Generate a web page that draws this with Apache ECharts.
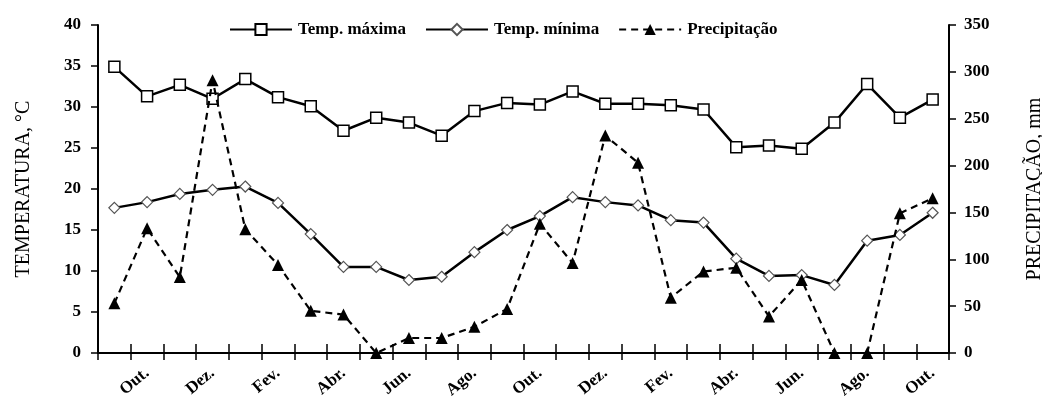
<!DOCTYPE html>
<html>
<head>
<meta charset="utf-8">
<script src="https://cdn.jsdelivr.net/npm/echarts@6/dist/echarts.min.js"></script>
<style>html,body{margin:0;padding:0;background:#fff}#c{width:1042px;height:396px}</style>
</head>
<body>
<div id="c"></div>
<script>
var categories = ['Set.','Out.','Nov.','Dez.','Jan.','Fev.','Mar.','Abr.','Mai.','Jun.','Jul.','Ago.','Set.','Out.','Nov.','Dez.','Jan.','Fev.','Mar.','Abr.','Mai.','Jun.','Jul.','Ago.','Set.','Out.'];
var tempMax = [34.9,31.3,32.7,31.0,33.4,31.2,30.1,27.1,28.7,28.1,26.5,29.5,30.5,30.3,31.9,30.4,30.4,30.2,29.7,25.1,25.3,24.9,28.1,32.8,28.7,30.9];
var tempMin = [17.7,18.4,19.4,19.9,20.3,18.3,14.5,10.5,10.5,8.9,9.3,12.3,15.0,16.7,19.0,18.4,18.0,16.2,15.9,11.5,9.4,9.5,8.3,13.7,14.4,17.1];
var precip = [53,133,81,291,132,94,45,41,0,16,16,28,47,138,96,232,203,59,87,91,39,78,0,0,149,165];
var leftTicks = {min:0, max:40, interval:5};
var rightTicks = {min:0, max:350, interval:50};

var FONT = 'Liberation Serif';
var chart = echarts.init(document.getElementById('c'), null, {renderer:'canvas'});
var axisLine = {lineStyle:{color:'#000', width:2}};
chart.setOption({
  animation:false,
  backgroundColor:'#fff',
  grid:{left:98, right:93, top:25, bottom:43, containLabel:false, outerBoundsMode:'none'},
  legend:{
    left:229, top:21, padding:0, itemWidth:62, itemHeight:14, itemGap:19,
    textStyle:{fontFamily:FONT, fontWeight:'bold', fontSize:17, color:'#000', padding:[0,0,0,1]},
    data:['Temp. máxima','Temp. mínima','Precipitação']
  },
  xAxis:[{
    type:'category', data:categories, boundaryGap:true,
    axisLine:axisLine,
    axisTick:{show:true, interval:0, length:7, inside:false, lineStyle:{color:'#000', width:1.5}},
    axisLabel:{interval:function(i){return i%2===1;}, rotate:40, margin:18, fontFamily:FONT, fontWeight:'bold', fontSize:17, color:'#000'},
    splitLine:{show:false}
  },{
    type:'category', data:categories, boundaryGap:true, position:'bottom',
    axisLine:{show:false},
    axisTick:{show:true, interval:0, length:9, inside:true, lineStyle:{color:'#000', width:1.5}},
    axisLabel:{show:false}, splitLine:{show:false}
  }],
  yAxis:[{
    type:'value', min:leftTicks.min, max:leftTicks.max, interval:leftTicks.interval, position:'left',
    name:'TEMPERATURA, °C', nameLocation:'middle', nameRotate:90, nameGap:64,
    nameTextStyle:{fontFamily:FONT, fontSize:20, color:'#000'},
    axisLine:Object.assign({show:true}, axisLine),
    axisTick:{show:true, length:7, lineStyle:{color:'#000', width:1.5}},
    axisLabel:{margin:17, fontFamily:FONT, fontWeight:'bold', fontSize:17, color:'#000'},
    splitLine:{show:false}
  },{
    type:'value', min:rightTicks.min, max:rightTicks.max, interval:rightTicks.interval, position:'right',
    name:'PRECIPITAÇÃO, mm', nameLocation:'middle', nameRotate:90, nameGap:76,
    nameTextStyle:{fontFamily:FONT, fontSize:20, color:'#000'},
    axisLine:Object.assign({show:true}, axisLine),
    axisTick:{show:true, length:7, lineStyle:{color:'#000', width:1.5}},
    axisLabel:{margin:15, fontFamily:FONT, fontWeight:'bold', fontSize:17, color:'#000'},
    splitLine:{show:false}
  }],
  series:[{
    name:'Temp. máxima', type:'line', xAxisIndex:0, yAxisIndex:0, data:tempMax,
    symbol:'rect', symbolSize:11, showAllSymbol:true,
    lineStyle:{color:'#000', width:2.5},
    itemStyle:{color:'#fff', borderColor:'#000', borderWidth:1.5}, z:3
  },{
    name:'Temp. mínima', type:'line', xAxisIndex:0, yAxisIndex:0, data:tempMin,
    symbol:'diamond', symbolSize:11, showAllSymbol:true,
    lineStyle:{color:'#000', width:2.5},
    itemStyle:{color:'#fff', borderColor:'#555', borderWidth:1.2}, z:3
  },{
    name:'Precipitação', type:'line', xAxisIndex:0, yAxisIndex:1, data:precip,
    symbol:'triangle', symbolSize:12, showAllSymbol:true, clip:false,
    lineStyle:{color:'#000', width:2.2, type:[7,5]},
    itemStyle:{color:'#000', borderColor:'#000', borderWidth:0}, z:4
  }]
});
</script>
</body>
</html>
